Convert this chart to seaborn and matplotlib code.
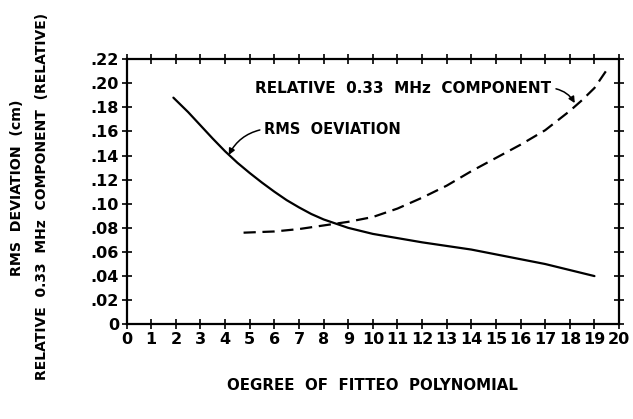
import numpy as np
import pandas as pd
import seaborn as sns
import matplotlib
matplotlib.use("Agg")
import matplotlib.pyplot as plt

# valores
grau_rms = [1.9, 2.5, 3, 3.5, 4, 4.5, 5, 5.5, 6, 6.5, 7, 7.5, 8, 8.5, 9, 10,
            11, 12, 13, 14, 15, 16, 17, 18, 19]
desvio_rms = [0.188, 0.176, 0.165, 0.154, 0.1435, 0.134, 0.1255, 0.1175, 0.110,
              0.103, 0.097, 0.0915, 0.087, 0.0835, 0.080, 0.075, 0.0715, 0.068,
              0.065, 0.062, 0.058, 0.054, 0.050, 0.045, 0.040]

grau_comp = [4.75, 6, 7, 8, 9, 10, 11, 12, 13, 14, 15, 16, 17, 18, 18.5, 19, 19.5]
componente = [0.076, 0.077, 0.079, 0.082, 0.085, 0.089, 0.096, 0.105, 0.115,
              0.127, 0.138, 0.149, 0.161, 0.177, 0.186, 0.196, 0.211]

x_ticks = list(range(0, 21))
y_ticks = [0, 0.02, 0.04, 0.06, 0.08, 0.10, 0.12, 0.14, 0.16, 0.18, 0.20, 0.22]
y_labels = ["0", ".02", ".04", ".06", ".08", ".10", ".12", ".14", ".16", ".18", ".20", ".22"]

df_rms = pd.DataFrame({"grau": grau_rms, "valor": desvio_rms})
df_comp = pd.DataFrame({"grau": grau_comp, "valor": componente})

sns.set_style("ticks")
plt.rcParams['font.family'] = ['DejaVu Sans']
plt.rcParams['font.weight'] = 'bold'
plt.rcParams['axes.labelweight'] = 'bold'
for k in ['text.color', 'axes.labelcolor', 'xtick.color', 'ytick.color', 'axes.edgecolor']:
    plt.rcParams[k] = 'black'

fig = plt.figure(figsize=(6.33, 4.19), dpi=100)
ax = fig.add_axes([0.200, 0.226, 0.778, 0.633])

sns.lineplot(data=df_rms, x="grau", y="valor", color="black", linewidth=1.6, ax=ax)
sns.lineplot(data=df_comp, x="grau", y="valor", color="black", linewidth=1.6, ax=ax)
ax.lines[-1].set_dashes([5.5, 3])

ax.set_xlim(0, 20)
ax.set_ylim(0, 0.22)
ax.set_xticks(x_ticks)
ax.set_xticklabels([str(t) for t in x_ticks])
ax.set_yticks(y_ticks)
ax.set_yticklabels(y_labels)
ax.tick_params(direction="inout", length=7, width=1.2, labelsize=11.5,
               top=True, right=True, pad=2)
for s in ax.spines.values():
    s.set_visible(True)
    s.set_linewidth(1.6)
ax.set_xlabel("OEGREE  OF  FITTEO  POLYNOMIAL", fontsize=10.8, labelpad=22)
ax.set_ylabel("")

fig.text(0.027, 0.551, "RMS  DEVIATION  (cm)", rotation=90, fontsize=10.2,
         ha="center", va="center")
fig.text(0.066, 0.53, "RELATIVE  0.33  MHz  COMPONENT  (RELATIVE)", rotation=90,
         fontsize=10, ha="center", va="center")

ax.annotate("RMS  OEVIATION", xy=(4.15, 0.1405), xytext=(5.6, 0.162),
            fontsize=10.5, va="center", ha="left",
            arrowprops=dict(arrowstyle="-|>", color="black", lw=1.1, relpos=(0, 0.5),
                            connectionstyle="arc3,rad=0.25", shrinkA=1, shrinkB=0,
                            mutation_scale=9))
ax.annotate("RELATIVE  0.33  MHz  COMPONENT", xy=(18.2, 0.1835), xytext=(17.25, 0.196),
            fontsize=11, va="center", ha="right",
            arrowprops=dict(arrowstyle="-|>", color="black", lw=1.1, relpos=(1, 0.5),
                            connectionstyle="arc3,rad=-0.25", shrinkA=1, shrinkB=0,
                            mutation_scale=9))

plt.savefig("out.png", dpi=100)
